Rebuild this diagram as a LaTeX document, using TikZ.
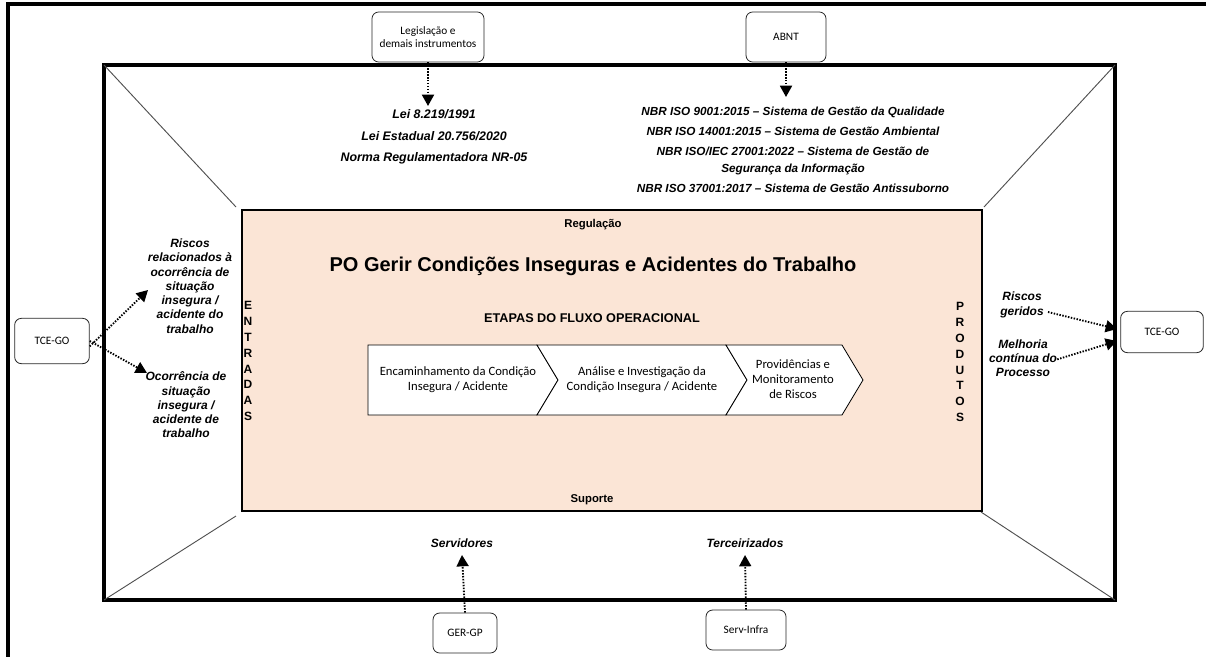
\documentclass[tikz,border=0pt]{standalone}
\usepackage{fontspec}
\setmainfont{Liberation Sans}
\newfontfamily\carl{Carlito}
\usetikzlibrary{arrows.meta}
\definecolor{peach}{HTML}{FBE5D6}
\definecolor{diagc}{HTML}{505050}
\begin{document}
\begin{tikzpicture}[x=0.75pt,y=-0.75pt,
  ext/.style={draw=black!85, rounded corners=5pt, line width=0.6pt, fill=white,
    font=\carl\fontsize{8.5}{10}\selectfont, align=center, inner sep=1pt},
  lbl/.style={font=\bfseries\itshape\fontsize{9}{10.7}\selectfont, align=center, inner sep=0pt},
  flow/.style={line width=1.4pt, dash pattern=on 1.1pt off 1.1pt,
    -{Triangle[length=8.5pt,width=9pt]}},
  diagline/.style={draw=diagc, line width=0.7pt},
  stagebox/.style={draw=black, fill=white, line width=0.6pt},
  stagetxt/.style={font=\carl\fontsize{9.5}{11.5}\selectfont, align=center, inner sep=0pt},
  vert/.style={font=\bfseries\fontsize{9}{11.9}\selectfont, align=center, inner sep=0pt},
  head/.style={font=\bfseries\fontsize{8.5}{10}\selectfont, inner sep=0pt}
]
\useasboundingbox (0,0) rectangle (1206,657);
% page frame
\draw[line width=2.3pt] (1206,4) -- (8,4) -- (8,657);
% outer rectangle
\draw[line width=2.3pt] (104,65) rectangle (1115,600);
% diagonals
\draw[diagline] (104,65) -- (236,207);
\draw[diagline] (1115,65) -- (984,207);
\draw[diagline] (104,600) -- (236,516);
\draw[diagline] (1115,600) -- (981,512);
% inner process rectangle
\draw[line width=1.5pt, fill=peach] (242,210) rectangle (982,511);
\node[head] (reg) at (593,225) {Regulação};
\node[head] (sup) at (592,500) {Suporte};
\node[font=\bfseries\fontsize{15}{18}\selectfont, inner sep=0pt] (title) at (593,266)
  {PO Gerir Condições Inseguras e Acidentes do Trabalho};
\node[font=\bfseries\fontsize{9.5}{11}\selectfont, inner sep=0pt] (etapas) at (592,318)
  {ETAPAS DO FLUXO OPERACIONAL};
\node[vert] (entr) at (248,361) {E\\N\\T\\R\\A\\D\\A\\S};
\node[vert] (prod) at (960,362) {P\\R\\O\\D\\U\\T\\O\\S};
% stages
\draw[stagebox] (368,345) -- (537,345) -- (558,380) -- (537,415) -- (368,415) -- cycle;
\draw[stagebox] (537,345) -- (726,345) -- (747,380) -- (726,415) -- (537,415) -- (558,380) -- cycle;
\draw[stagebox] (726,345) -- (842,345) -- (863,380) -- (842,415) -- (726,415) -- (747,380) -- cycle;
\node[stagetxt] (st1) at (458,380) {Encaminhamento da Condição\\Insegura / Acidente};
\node[stagetxt] (st2) at (642,380) {Análise e Investigação da\\Condição Insegura / Acidente};
\node[stagetxt] (st3) at (793,379) {Providências e\\Monitoramento\\de Riscos};
% regulation sources
\node[ext, minimum width=84pt, minimum height=37.5pt] (leg) at (428,37) {Legislação e\\demais instrumentos};
\node[ext, minimum width=60pt, minimum height=37.5pt] (abnt) at (786,37) {ABNT};
\node[font=\bfseries\itshape\fontsize{9.3}{16}\selectfont, align=center, inner sep=0pt] (lei) at (434,137)
  {Lei 8.219/1991\\Lei Estadual 20.756/2020\\Norma Regulamentadora NR-05};
\node[font=\bfseries\itshape\fontsize{8.8}{12.75}\selectfont, align=center, inner sep=0pt] (nbr) at (793,150)
  {NBR ISO 9001:2015 -- Sistema de Gestão da Qualidade\\[2.3pt]
   NBR ISO 14001:2015 -- Sistema de Gestão Ambiental\\[2.3pt]
   NBR ISO/IEC 27001:2022 -- Sistema de Gestão de\\
   Segurança da Informação\\[2.3pt]
   NBR ISO 37001:2017 -- Sistema de Gestão Antissuborno};
\coordinate (legtip) at (428,106);
\coordinate (abnttip) at (786,97);
\draw[flow] (leg.south) -- (legtip);
\draw[flow] (abnt.south) -- (abnttip);
% inputs
\node[ext, minimum width=56pt, minimum height=34pt] (tceL) at (52,341) {TCE-GO};
\node[lbl] (in1) at (190,286) {Riscos\\relacionados à\\ocorrência de\\situação\\insegura /\\acidente do\\trabalho};
\node[lbl] (in2) at (186,405) {Ocorrência de\\situação\\insegura /\\acidente de\\trabalho};
\coordinate (tip1) at (148,290);
\coordinate (tip2) at (147,373);
\draw[flow] (tceL.east) ++(0,-4pt) -- (tip1);
\draw[flow] (tceL.east) -- (tip2);
% outputs
\node[ext, minimum width=62pt, minimum height=31pt] (tceR) at (1162,332) {TCE-GO};
\node[lbl] (out1) at (1022,305) {Riscos\\geridos};
\node[lbl] (out2) at (1023,358) {Melhoria\\contínua do\\Processo};
\coordinate (rt1) at (1117,329);
\coordinate (rt2) at (1117,341);
\draw[flow] (1048,312) -- (rt1);
\draw[flow] (out2.east) ++(0,-1pt) -- (rt2);
% support
\node[ext, minimum width=48pt, minimum height=30pt] (gergp) at (465,633) {GER-GP};
\node[ext, minimum width=60pt, minimum height=30pt] (serv) at (746,630) {Serv-Infra};
\node[lbl] (servid) at (462,543) {Servidores};
\node[lbl] (terc) at (745,543) {Terceirizados};
\draw[flow] (gergp.north) -- (servid.south |- 0,555);
\draw[flow] (serv.north) -- (terc.south |- 0,555);
\end{tikzpicture}
\end{document}
